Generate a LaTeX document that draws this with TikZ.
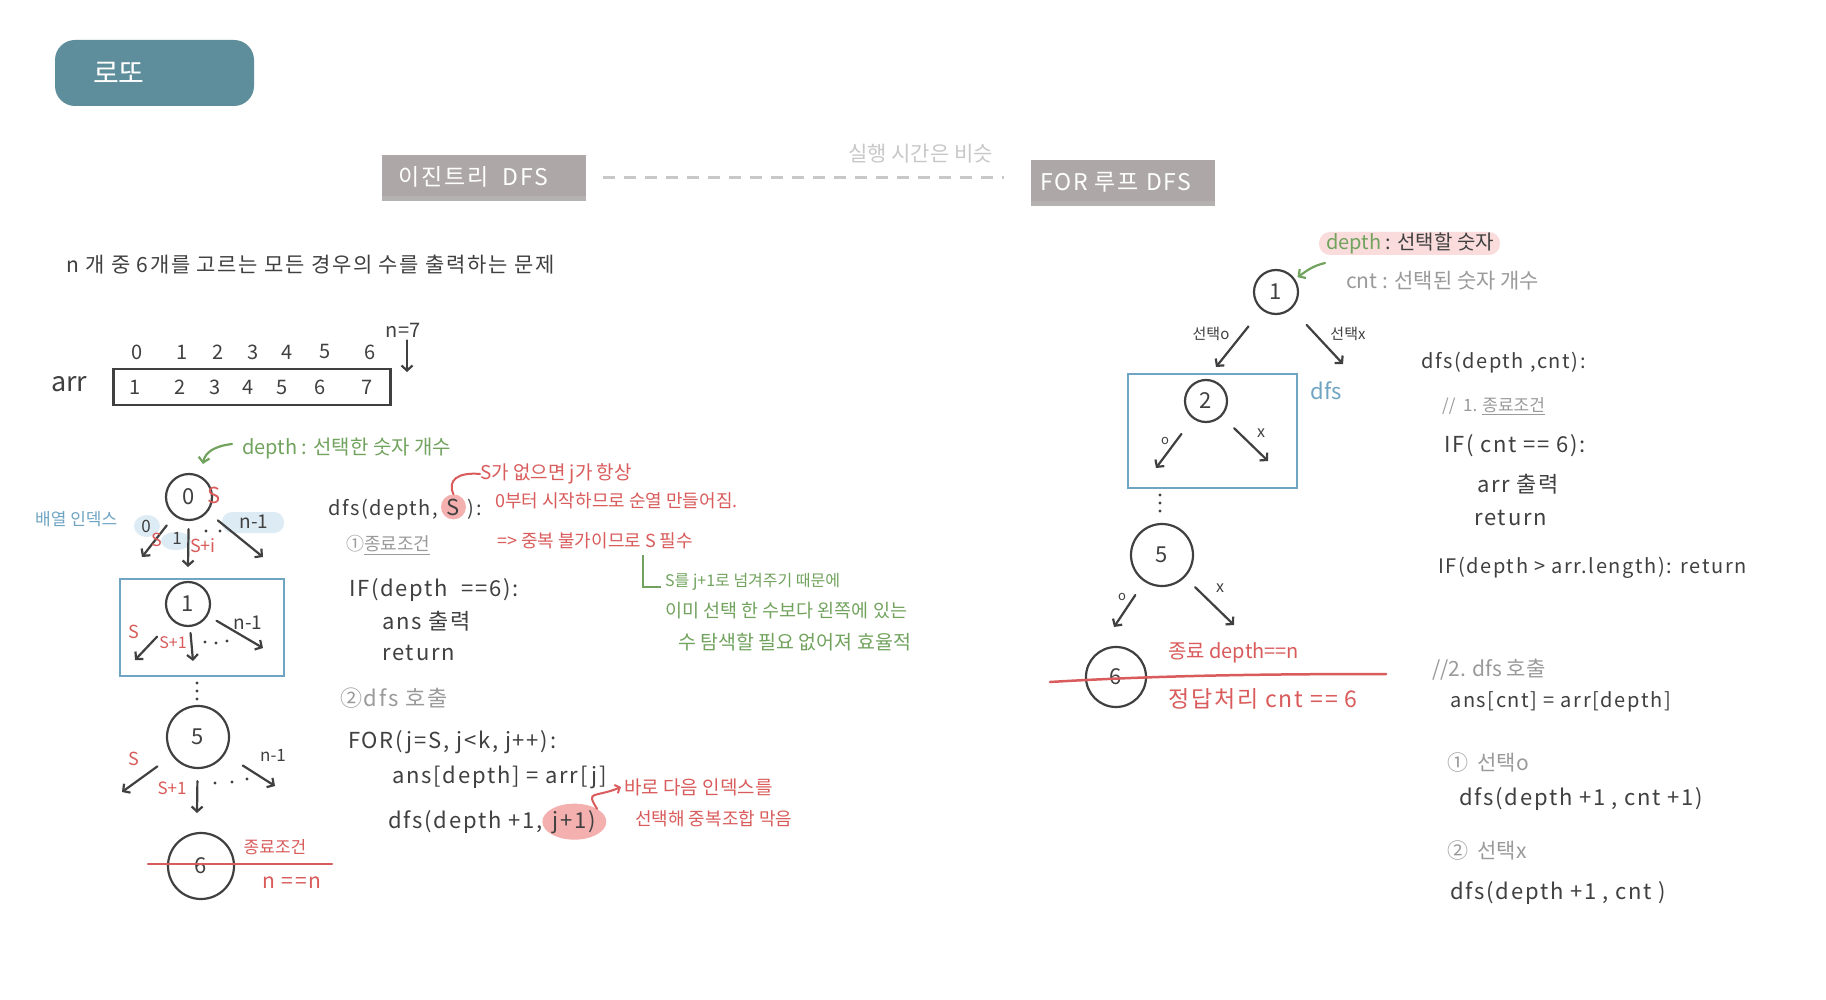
\documentclass[tikz,border=0pt]{standalone}
\usepackage{fontspec}
\setmainfont{Noto Sans CJK KR}
\newfontfamily\hand{Noto Sans CJK KR}[LetterSpace=8]
\usetikzlibrary{arrows.meta,shapes.geometric}
\definecolor{ink}{HTML}{404040}
\definecolor{gtext}{HTML}{9A9A9A}
\definecolor{lgray}{HTML}{C8C8C8}
\definecolor{rd}{HTML}{D95B5B}
\definecolor{gr}{HTML}{72A35E}
\definecolor{bl}{HTML}{6FA4C2}
\definecolor{teal1}{HTML}{5E8D9B}
\definecolor{boxg}{HTML}{ADA8A7}
\definecolor{boxgd}{HTML}{B4B1B0}
\definecolor{pinkh}{HTML}{F4AFAF}
\definecolor{pinkl}{HTML}{FADCDC}
\definecolor{blueh}{HTML}{DDEBF5}
\newcommand{\myfs}[1]{\fontsize{#1}{#1}\selectfont}
\tikzset{
  tx/.style={inner sep=0pt, anchor=west, text=ink, font=\myfs{20}},
  tc/.style={inner sep=0pt, anchor=center, text=ink, font=\myfs{20}},
  code/.style={tx, font=\hand\myfs{22}},
  codes/.style={tx, font=\hand\myfs{20}},
  cnode/.style={circle, draw=ink, line width=2.2pt, inner sep=0pt, font=\myfs{22}, text=ink},
  arw/.style={draw=ink, line width=2.2pt, line cap=round, -{Straight Barb[length=5pt,width=11pt]}},
  garw/.style={draw=gr, line width=2.2pt, line cap=round, -{Straight Barb[length=5pt,width=11pt]}},
  rarw/.style={draw=rd, line width=2pt, line cap=round, -{Straight Barb[length=4pt,width=9pt]}},
  bbox/.style={draw=bl, line width=2.2pt, inner sep=0pt},
  hbox/.style={fill=boxg, minimum height=46pt, inner sep=0pt},
  titlebox/.style={fill=teal1, rounded corners=20pt, minimum width=199pt, minimum height=66pt, inner sep=0pt},
  dline/.style={draw=lgray, line width=3pt, dash pattern=on 12pt off 9pt},
  rline/.style={draw=rd, line width=2.5pt, line cap=round},
}
\begin{document}
\begin{tikzpicture}[x=1pt,y=-1pt]
\useasboundingbox (0,0) rectangle (1826,1000);
\fill[white] (0,0) rectangle (1826,1000);

% ---------- header ----------
\node[titlebox] (title) at (154.5,73) {};
\node[tx, text=white, font=\myfs{28}] (titletxt) at (93,73) {로또};
\node[hbox, minimum width=204pt] (hb1) at (484,178) {};
\fill[boxgd] (hb1.south west) rectangle ([yshift=5pt]hb1.south east);
\node[tx, text=white, font=\hand\myfs{23}] (hb1t) at (398,177) {이진트리\ \ DFS};
\node[hbox, minimum width=184pt] (hb2) at (1123,183) {};
\fill[boxgd] (hb2.south west) rectangle ([yshift=5pt]hb2.south east);
\node[tx, text=white, font=\hand\myfs{23}] (hb2t) at (1040,182) {FOR 루프 DFS};
\draw[dline] ([xshift=17pt]hb1.east) -- ([xshift=-27pt,yshift=5pt]hb2.west);
\node[tx, text=lgray, font=\myfs{21}] (simtxt) at (848,154) {실행 시간은 비슷};

% ---------- problem ----------
\node[tx, font=\hand\myfs{21}] (prob) at (66,265) {n 개 중 6개를 고르는 모든 경우의 수를 출력하는 문제};

% ---------- array ----------
\node[tx, font=\myfs{27}] (arrlbl) at (51,384) {arr};
\node[draw=ink, line width=2.2pt, minimum width=277pt, minimum height=36pt, inner sep=0pt] (arrbox) at (252,387) {};
\foreach \x/\i [count=\k] in {137/0,182/1,218/2,253/3,287/4,325/5,370/6}
  \node[tc, font=\myfs{20}] (idx\k) at (\x,352) {\i};
\foreach \x/\i [count=\k] in {135/1,180/2,215/3,248/4,282/5,320/6,367/7}
  \node[tc, font=\myfs{20}] (val\k) at (\x,387) {\i};
\node[tc, font=\myfs{20}] (n7) at (403,330) {n=7};
\coordinate (n7e) at (407,372);
\draw[arw, shorten <=3pt] (n7.south -| n7e) -- (n7e);

% ---------- left tree ----------
\node[tx, text=gr] (dep0) at (242,449) {depth : 선택한 숫자 개수};
\coordinate (g0e) at (203,464);
\draw[garw] ([shift={(-10,-5)}]dep0.west) .. controls (215,446) and (205,452) .. (g0e);

\fill[blueh] (147,526) ellipse (13 and 11);
\fill[blueh] (176,541) ellipse (15 and 9);
\fill[blueh, rounded corners=10pt] (222,512) rectangle (284,533);
\node[tx, text=bl, font=\myfs{17}] (idxlbl) at (35,519) {배열 인덱스};

\node[cnode, minimum size=46pt] (n0) at (189,497) {0};
\node[tc, text=rd, font=\myfs{22}] (s0) at (214,495) {S};
\coordinate (n0l) at (142,557);
\coordinate (n0m) at (188,567);
\coordinate (n0r) at (263,557);
\draw[arw, shorten <=12pt] (n0) -- (n0l);
\draw[arw, shorten <=8pt] (n0) -- (n0m);
\draw[arw, shorten <=13pt] (n0) -- (n0r);
\node[tc, font=\myfs{17}] (e00) at (146,526) {0};
\node[tc, font=\myfs{17}] (e01) at (177,538) {1};
\node[tc, font=\myfs{19}] (e0n) at (254,522) {n-1};
\node[tc, text=rd, font=\myfs{18}] (e0s) at (157,540) {S};
\node[tc, text=rd, font=\myfs{18}] (e0si) at (203,546) {S+i};
\fill[ink] (206,531) circle (1.6) (220,531) circle (1.6);

\node[bbox, minimum width=164pt, minimum height=97pt] (bx1) at (202,627.5) {};
\node[cnode, minimum size=44pt] (n1) at (188,604) {1};
\coordinate (n1l) at (135,660);
\coordinate (n1m) at (193,661);
\coordinate (n1r) at (263,648);
\draw[arw, shorten <=22pt] (n1) -- (n1l);
\draw[arw, shorten <=6pt] (n1) -- (n1m);
\draw[arw, shorten <=10pt] (n1) -- (n1r);
\node[tc, text=rd, font=\myfs{18}] (e1s) at (134,632) {S};
\node[tc, text=rd, font=\myfs{16}] (e1s1) at (173,643) {S+1};
\node[tc, font=\myfs{19}] (e1n) at (248,623) {n-1};
\fill[ink] (205,642) circle (1.6) (216,643) circle (1.6) (227,641) circle (1.6);
\fill[ink] (197,683) circle (1.7) (197,691) circle (1.7) (197,699) circle (1.7);

\node[cnode, minimum size=62pt] (n5) at (198,737) {5};
\coordinate (n5l) at (122,792);
\coordinate (n5m) at (197,813);
\coordinate (n5r) at (275,786);
\draw[arw, shorten <=18pt] (n5) -- (n5l);
\draw[arw, shorten <=12pt] (n5) -- (n5m);
\draw[arw, shorten <=21pt] (n5) -- (n5r);
\node[tc, text=rd, font=\myfs{18}] (e5s) at (134,759) {S};
\node[tc, text=rd, font=\myfs{17}] (e5s1) at (172,788) {S+1};
\node[tc, font=\myfs{17}] (e5n) at (273,755) {n-1};
\fill[ink] (215,783) circle (1.6) (232,782) circle (1.6) (247,779) circle (1.6);

\node[cnode, minimum size=66pt] (n6) at (201,866) {6};
\coordinate (rl1) at (148,864);
\coordinate (rl2) at (332,864);
\draw[rline] (rl1) -- (rl2);
\node[tc, text=rd, font=\myfs{17}] (endc) at (275,847) {종료조건};
\node[tc, text=rd, font=\hand\myfs{21}] (nn) at (292,883) {n ==n};

% ---------- middle code ----------
\node[codes, anchor=base west] (dfsA) at (328,515) {dfs(depth,};
\node[circle, fill=pinkh, inner sep=0pt, minimum size=25pt, text=ink, font=\myfs{22}, anchor=base] (sS) at ([xshift=15pt]dfsA.base east) {S};
\node[codes, anchor=base west] (dfsC) at ([xshift=14pt]sS.base) {):};

\node[tx, text=gtext, font=\myfs{18}] (c1) at (346,545) {①\underline{종료조건}};
\node[code] (c2) at (349,590) {IF(depth \ ==6):};
\node[code] (c3) at (382,621) {ans 출력};
\node[code] (c4) at (382,653) {return};
\node[tx, text=gtext, font=\hand\myfs{22}] (c5) at (340,698) {②dfs 호출};
\node[code] (c6) at (348,742) {FOR(j=S,\ j<k,\ j++):};
\node[code] (c7) at (392,777) {ans[depth] = arr[j]};
\node[code, anchor=base west] (c8) at (388,828) {dfs(depth +1,};
\node[ellipse, fill=pinkh, inner sep=1pt, minimum width=60pt, minimum height=36pt, text=ink, font=\hand\myfs{22}, anchor=base] (jj) at ([xshift=32pt]c8.base east) {j+1)};

% red notes
\node[tx, text=rd, font=\myfs{19}] (r1) at (480,474) {S가 없으면 j가 항상};
\node[tx, text=rd, font=\myfs{18}] (r2) at (495,501) {0부터 시작하므로 순열 만들어짐.};
\node[tx, text=rd, font=\myfs{18}] (r3) at (497,541) {=> 중복 불가이므로 S 필수};
\draw[draw=rd, line width=2pt, line cap=round] (sS.north) .. controls (447,480) and (458,472) .. (r1.west);

\node[tx, text=rd, font=\myfs{19}] (r4) at (624,787) {바로 다음 인덱스를};
\node[tx, text=rd, font=\myfs{18}] (r5) at (635,819) {선택해 중복조합 막음};
\draw[rarw] (jj.north east) .. controls (585,790) and (595,798) .. ([xshift=-3pt]r4.west);

% green notes
\node[tx, text=gr, font=\myfs{16}] (g1) at (665,582) {S를 j+1로 넘겨주기 때문에};
\node[tx, text=gr, font=\myfs{18.5}] (g2) at (665,611) {이미 선택 한 수보다 왼쪽에 있는};
\node[tx, text=gr, font=\myfs{19.5}] (g3) at (678,642) {수 탐색할 필요 없어져 효율적};
\coordinate (bk1) at (643,555);
\draw[draw=gr, line width=2pt] (bk1) |- ([xshift=-4pt,yshift=-5pt]g1.west);

% ---------- right tree ----------
\fill[pinkl, rounded corners=11pt] (1319,232) rectangle (1500,255);
\node[tx, font=\myfs{20}] (depR) at (1326,243) {\textcolor{gr}{depth} : 선택할 숫자};
\node[tx, text=gtext, font=\myfs{21}] (cntR) at (1346,281) {cnt : 선택된 숫자 개수};

\node[cnode, minimum size=44pt] (r1n) at (1276,292) {1};
\coordinate (gRs) at (1325,263);
\draw[garw, shorten >=3pt] (gRs) .. controls (1312,266) and (1305,272) .. (r1n);
\node[tc, font=\myfs{15}] (sel0) at (1211,334) {선택o};
\node[tc, font=\myfs{15}] (selx) at (1348,334) {선택x};
\coordinate (r1l) at (1216,367);
\coordinate (r1r) at (1343,364);
\draw[arw, shorten <=21pt] (r1n) -- (r1l);
\draw[arw, shorten <=22pt] (r1n) -- (r1r);

\node[bbox, minimum width=169pt, minimum height=114pt] (bx2) at (1212.5,431) {};
\node[tc, text=bl, font=\myfs{22}] (dfsb) at (1326,391) {dfs};
\node[cnode, minimum size=42pt] (r2n) at (1206,401) {2};
\node[tc, font=\myfs{13}] (o2) at (1165,441) {o};
\node[tc, font=\myfs{16}] (x2) at (1261,433) {x};
\coordinate (r2l) at (1156,468);
\coordinate (r2r) at (1268,461);
\draw[arw, shorten <=19pt] (r2n) -- (r2l);
\draw[arw, shorten <=17pt] (r2n) -- (r2r);
\fill[ink] (1160,495) circle (1.6) (1160,503) circle (1.6) (1160,511) circle (1.6);

\node[cnode, minimum size=62pt] (r5n) at (1162,555) {5};
\node[tc, font=\myfs{13}] (o5) at (1122,597) {o};
\node[tc, font=\myfs{16}] (x5) at (1220,588) {x};
\coordinate (r5l) at (1114,627);
\coordinate (r5r) at (1234,625);
\draw[arw, shorten <=16pt] (r5n) -- (r5l);
\draw[arw, shorten <=14pt] (r5n) -- (r5r);

\node[cnode, minimum size=60pt] (r6n) at (1116,677) {6};
\coordinate (rr1) at (1050,682);
\coordinate (rr2) at (1386,674);
\draw[rline] (rr1) .. controls (1150,676) and (1250,674) .. (rr2);
\node[tx, text=rd, font=\myfs{20}] (endR) at (1168,653) {종료 depth==n};
\node[tx, text=rd, font=\hand\myfs{23}] (ansR) at (1168,699) {정답처리 cnt == 6};

% ---------- right code ----------
\node[codes] (k1) at (1421,363) {dfs(depth ,cnt):};
\node[tx, text=gtext, font=\myfs{17}] (k2) at (1442,406) {// \ 1. \underline{종료조건}};
\node[code] (k3) at (1444,446) {IF(\ cnt == 6):};
\node[code] (k4) at (1477,484) {arr 출력};
\node[code] (k5) at (1474,518) {return};
\node[codes] (k6) at (1438,568) {IF(depth > arr.length): return};
\node[tx, text=gtext, font=\myfs{21}] (k7) at (1432,670) {//2. dfs 호출};
\node[codes] (k8) at (1450,702) {ans[cnt] = arr[depth]};
\node[tx, text=gtext, font=\myfs{21}] (k9) at (1447,763) {① \ 선택o};
\node[code] (k10) at (1459,799) {dfs(depth +1 , cnt +1)};
\node[tx, text=gtext, font=\myfs{21}] (k11) at (1447,851) {② \ 선택x};
\node[code] (k12) at (1450,893) {dfs(depth +1 , cnt )};
\end{tikzpicture}
\end{document}
